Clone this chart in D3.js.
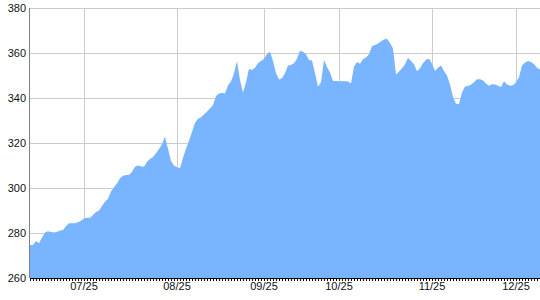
<!DOCTYPE html>
<html><head><meta charset="utf-8">
<script src="https://cdn.jsdelivr.net/npm/d3@7"></script>
<style>html,body{margin:0;padding:0;background:#fff;}svg{display:block;}</style>
</head><body>
<script>
const values = [274.7,274.7,276.5,275.5,278,280.2,280.8,280.5,280.2,280.6,
281,281.3,283,284.3,284.3,284.3,284.8,285.4,286.5,286.8,
286.8,288,289.3,290,292,293.9,295.2,298.5,300.3,302,
304.3,305.5,305.8,305.8,307.2,309.5,310,309.7,309.5,311.7,
312.9,313.8,315.5,317.3,319.5,322.8,317.5,312,310,309.2,
308.8,313.5,317.5,321,325,329,330.8,331.5,332.7,334,
335.3,336.8,340.9,342,342.3,342,345.7,347.3,351,356.3,
348,342.5,347,353,352.5,353.5,355.5,356.5,357.3,359.5,
360.6,356.5,351,348.2,348.8,351,354.5,354.7,355.5,357.5,
361,360.6,359.5,356.9,356.7,351,345,347,356.9,353.8,
351.3,347.6,347.6,347.4,347.5,347.5,347.3,346.5,354,356,
355.2,357.2,358,359.5,363.1,363.6,364.2,365.1,366,366.3,
364.5,362,350.5,351.8,353.2,355,357.9,356.5,355,351.9,
353.2,355.5,357,357.4,355.2,352,353.5,354.5,352,350,
346,340.5,337.5,337.3,342.5,345.1,345.3,345.9,347,348.3,
348.3,347.8,346.5,345.5,346.1,346,345.5,344.9,347.5,346,
345.4,345.7,347,349.2,354.5,355.8,356.4,356,355,353.5,352.7];
const xTickIndex = [18, 49, 78, 103, 134, 162];
const xTickLabels = ["07/25", "08/25", "09/25", "10/25", "11/25", "12/25"];
const yTicks = [260, 280, 300, 320, 340, 360, 380];

const W = 540, H = 300;
const m = {l: 30, r: 0, t: 8, b: 22};
const svg = d3.select("body").append("svg").attr("width", W).attr("height", H);
const x = d3.scaleLinear().domain([0, values.length - 1]).range([m.l, W - m.r]);
const y = d3.scaleLinear().domain([260, 380]).range([H - m.b, m.t]);

// grid
svg.append("g").selectAll("line").data(yTicks).join("line")
  .attr("x1", m.l).attr("x2", W).attr("y1", d => Math.round(y(d)) + 0.5).attr("y2", d => Math.round(y(d)) + 0.5)
  .attr("stroke", "#cccccc").attr("stroke-width", 1);
svg.append("g").selectAll("line").data(xTickIndex).join("line")
  .attr("x1", d => Math.round(x(d)) + 0.5).attr("x2", d => Math.round(x(d)) + 0.5)
  .attr("y1", m.t).attr("y2", H - m.b)
  .attr("stroke", "#cccccc").attr("stroke-width", 1);

// area
const area = d3.area().x((d, i) => x(i)).y0(y(260)).y1(d => y(d));
svg.append("path").datum(values).attr("d", area).attr("fill", "#78b4ff");

// y axis
svg.append("line").attr("x1", m.l - 0.5).attr("x2", m.l - 0.5).attr("y1", m.t).attr("y2", H - m.b)
  .attr("stroke", "#808080");
svg.append("g").selectAll("text").data(yTicks).join("text")
  .attr("x", 26).attr("y", d => y(d)).attr("dy", "0.35em").attr("text-anchor", "end")
  .attr("font-family", "Liberation Sans, Arial, sans-serif").attr("font-size", 11).attr("fill", "#111")
  .text(d => d);

// x axis ticks (one per data point)
const yb = H - m.b;
svg.append("g").selectAll("line").data(d3.range(values.length)).join("line")
  .attr("x1", i => Math.round(x(i)) + 0.5).attr("x2", i => Math.round(x(i)) + 0.5)
  .attr("y1", yb).attr("y2", yb + 3).attr("stroke", "#000");
svg.append("line").attr("x1", m.l).attr("x2", W).attr("y1", yb + 0.5).attr("y2", yb + 0.5).attr("stroke", "#000");
svg.append("g").selectAll("text").data(xTickIndex).join("text")
  .attr("x", i => x(i)).attr("y", 290).attr("text-anchor", "middle")
  .attr("font-family", "Liberation Sans, Arial, sans-serif").attr("font-size", 11).attr("fill", "#111")
  .text((d, k) => xTickLabels[k]);
</script>
</body></html>
